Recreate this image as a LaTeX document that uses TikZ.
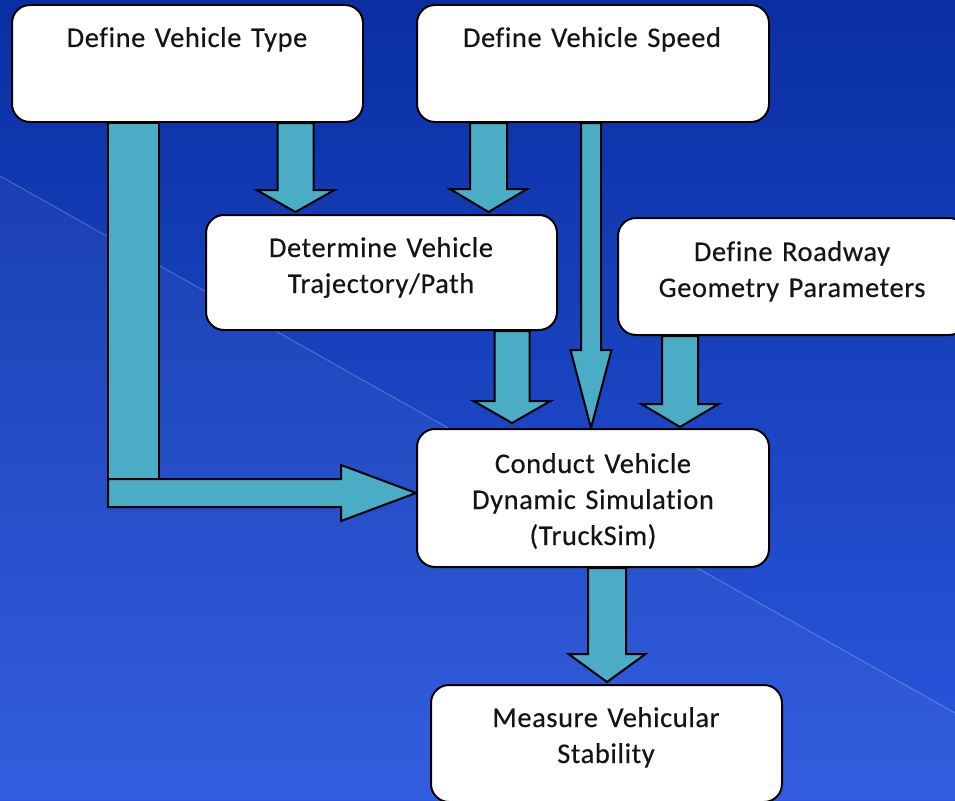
\documentclass[tikz,border=0pt]{standalone}
\usepackage{fontspec}
\setmainfont{Carlito}[Ligatures=NoCommon, LetterSpace=2, WordSpace=0.6, FakeBold=0.3]
\usetikzlibrary{calc}
\pgfdeclarelayer{back}
\pgfdeclarelayer{mid}
\pgfsetlayers{back,mid,main}
\definecolor{bgtop}{HTML}{0A2FA3}
\definecolor{bgmid}{HTML}{1240C0}
\definecolor{bgbot}{HTML}{2A58DE}
\definecolor{flow}{HTML}{4BACC6}
\tikzset{
  box/.style={draw=black, line width=2pt, fill=white, rounded corners=18pt, inner sep=0pt},
  lbl/.style={font=\fontsize{28.5}{36}\selectfont, align=center, anchor=base,
              inner sep=0pt, text width=340pt, text=black!92},
  flowarrow/.style={draw=black, line width=2pt, fill=flow, line join=miter},
}
% block arrow pointing down: #1 source, #2 target, #3 axis x,
% #4 half shaft width, #5 half head width, #6 head length, #7 gap above target
\newcommand{\flowdown}[7]{%
  \draw[flowarrow] let \p1=(#1.south), \p2=(#2.north) in
    ({#3pt-#4pt},\y1) -- ({#3pt-#4pt},{\y2+#7pt+#6pt}) -- ({#3pt-#5pt},{\y2+#7pt+#6pt})
    -- (#3pt,{\y2+#7pt}) -- ({#3pt+#5pt},{\y2+#7pt+#6pt}) -- ({#3pt+#4pt},{\y2+#7pt+#6pt})
    -- ({#3pt+#4pt},\y1) -- cycle;}
\begin{document}
\begin{tikzpicture}[x=1pt,y=-1pt]
\useasboundingbox (0,0) rectangle (955,800);

% background
\begin{pgfonlayer}{back}
  \shade[top color=bgtop, middle color=bgmid, bottom color=bgbot] (0,0) rectangle (955,800);
  \fill[white, opacity=0.04] (0,176) -- (955,713) -- (955,800) -- (0,800) -- cycle;
  \draw[white, opacity=0.3, line width=0.7pt] (0,176) -- (955,713);
\end{pgfonlayer}

% boxes
\node[box, minimum width=351pt, minimum height=117pt] (type)  at (187.5,63.5) {};
\node[box, minimum width=352pt, minimum height=117pt] (speed) at (593,63.5) {};
\node[box, minimum width=351pt, minimum height=115pt] (traj)  at (381.5,272.5) {};
\node[box, minimum width=349pt, minimum height=117pt] (road)  at (792.5,276.5) {};
\node[box, minimum width=352pt, minimum height=138pt] (sim)   at (593,498) {};
\node[box, minimum width=351pt, minimum height=117pt] (stab)  at (606.5,743.5) {};

% labels
\node[lbl] (typetxt)  at (187,47)  {Define Vehicle Type};
\node[lbl] (speedtxt) at (592,47)  {Define Vehicle Speed};
\node[lbl] (trajtxt)  at (381,257) {Determine Vehicle\\Trajectory/Path};
\node[lbl] (roadtxt)  at (792,261) {Define Roadway\\Geometry Parameters};
\node[lbl] (simtxt)   at (593,473) {Conduct Vehicle\\Dynamic Simulation\\(TruckSim)};
\node[lbl] (stabtxt)  at (606,727) {Measure Vehicular\\Stability};

\coordinate (feed) at ($(sim.west)+(0,-5)$);

% connectors
\begin{pgfonlayer}{mid}
  \flowdown{type}{traj}{295.5}{18}{39}{22}{2}
  \flowdown{speed}{traj}{488.5}{18.5}{38.5}{23}{2}
  \flowdown{traj}{sim}{512}{17.5}{38.5}{22}{5}
  \flowdown{speed}{sim}{591}{10}{20.5}{78}{0}
  \flowdown{road}{sim}{680}{18}{38.5}{23}{1}
  \flowdown{sim}{stab}{607}{19}{38.5}{28}{2}
  % L-shaped feed from the vehicle type into the simulation
  \draw[flowarrow] let \p1=(type.south), \p2=(feed) in
    (108pt,\y1) rectangle (159pt,{\y2+14pt});
  \draw[flowarrow] let \p2=(feed) in
    (108pt,{\y2+14pt}) -- (341pt,{\y2+14pt}) -- (341pt,{\y2+28pt}) -- (\x2,\y2)
    -- (341pt,{\y2-28pt}) -- (341pt,{\y2-14pt}) -- (108pt,{\y2-14pt}) -- cycle;
\end{pgfonlayer}
\end{tikzpicture}
\end{document}
